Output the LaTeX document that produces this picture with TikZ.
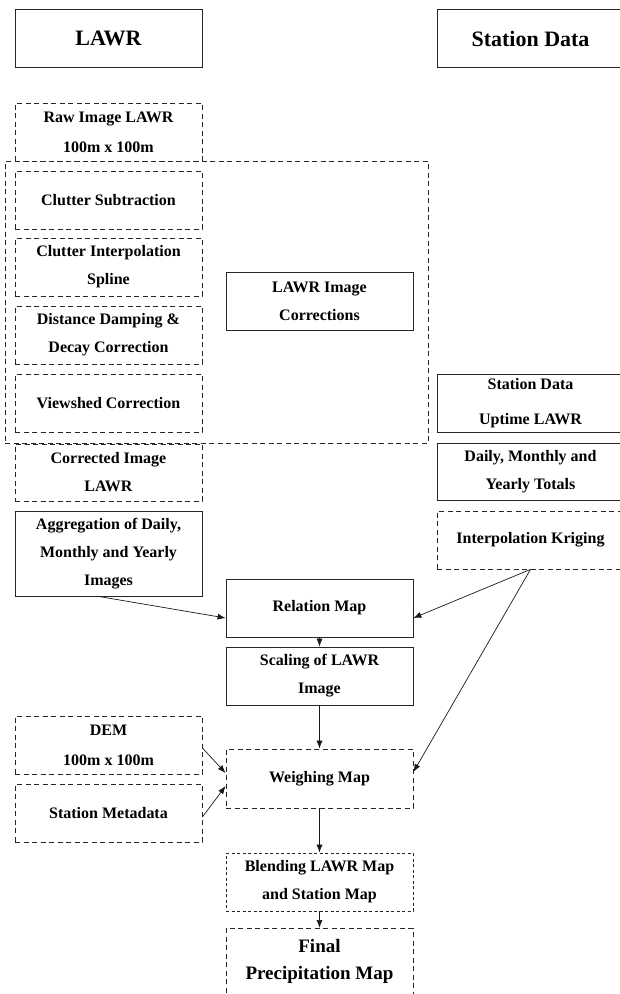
\documentclass[tikz,border=0pt]{standalone}
\usepackage{fontspec}
\setmainfont{Liberation Serif}
\usetikzlibrary{
    arrows.meta,
    positioning,
}

\begin{document}
\begin{tikzpicture}[x=1pt, y=-1pt,
    box/.style={rectangle, draw=black!85, line width=0.8pt, minimum width=187pt, minimum height=58pt, inner sep=0pt, align=center, font=\fontsize{16}{28}\selectfont\bfseries},
    dashbox/.style={box, dash pattern=on 5pt off 3.5pt},
    finebox/.style={box, dash pattern=on 3pt off 2.5pt},
    headbox/.style={box, font=\fontsize{22}{26}\selectfont\bfseries},
    arr/.style={-{Latex[length=8pt,width=6pt]}, line width=0.7pt, draw=black!90}]
    \useasboundingbox (0,0) rectangle (619,994);

    \node[headbox] (lawr) at (108.5,38.5) {LAWR};
    \node[headbox] (station) at (530.5,38.5) {Station Data};

    \node[dashbox, font=\fontsize{16}{30}\selectfont\bfseries] (raw) at (108.5,132) {Raw Image LAWR\\100m x 100m};
    \node[dashbox, minimum width=423pt, minimum height=282pt] (corrframe) at (216.5,302) {};
    \node[dashbox] (clutter) at (108.5,200) {Clutter Subtraction};
    \node[dashbox] (spline) at (108.5,267) {Clutter Interpolation\\Spline};
    \node[dashbox] (damping) at (108.5,335) {Distance Damping \&\\Decay Correction};
    \node[dashbox] (viewshed) at (108.5,403) {Viewshed Correction};
    \node[box] (corrections) at (319.5,301) {LAWR Image\\Corrections};

    \node[box] (uptime) at (530.5,403) {Station Data\\[7pt]Uptime LAWR};
    \node[box, minimum height=57pt] (totals) at (530.5,471.5) {Daily, Monthly and\\Yearly Totals};
    \node[dashbox] (kriging) at (530.5,540) {Interpolation Kriging};

    \node[dashbox, minimum height=57pt] (corrected) at (108.5,472.5) {Corrected Image\\LAWR};
    \node[box, minimum height=85pt] (aggregation) at (108.5,553.5) {Aggregation of Daily,\\Monthly and Yearly\\Images};

    \node[box] (relation) at (319.5,608) {Relation Map};
    \node[box] (scaling) at (319.5,676) {Scaling of LAWR\\Image};

    \node[dashbox, font=\fontsize{16}{30}\selectfont\bfseries] (dem) at (108.5,745) {DEM\\100m x 100m};
    \node[dashbox] (metadata) at (108.5,813) {Station Metadata};
    \node[dashbox, minimum height=59pt] (weighing) at (319.5,778.5) {Weighing Map};
    \node[finebox] (blending) at (319.5,882) {Blending LAWR Map\\and Station Map};
    \node[dashbox, anchor=north, minimum height=0pt, inner ysep=11pt, text depth=40pt, font=\fontsize{19}{27}\selectfont\bfseries] (final) at (319.5,928) {Final\\Precipitation Map};

    \draw[arr] ([xshift=-10pt]aggregation.south) -- ([yshift=-10pt]relation.west);
    \draw[arr] (kriging.south) -- ([yshift=-10pt]relation.east);
    \draw[arr] (kriging.south) -- ([yshift=6.5pt]weighing.east);
    \draw[arr] (relation) -- (scaling);
    \draw[arr] (scaling) -- (weighing);
    \draw[arr] ([yshift=-3pt]dem.east) -- ([yshift=5.5pt]weighing.west);
    \draw[arr] ([yshift=-4pt]metadata.east) -- ([yshift=-7.5pt]weighing.west);
    \draw[arr] (weighing) -- (blending);
    \draw[arr] (blending) -- (final);
\end{tikzpicture}
\end{document}
